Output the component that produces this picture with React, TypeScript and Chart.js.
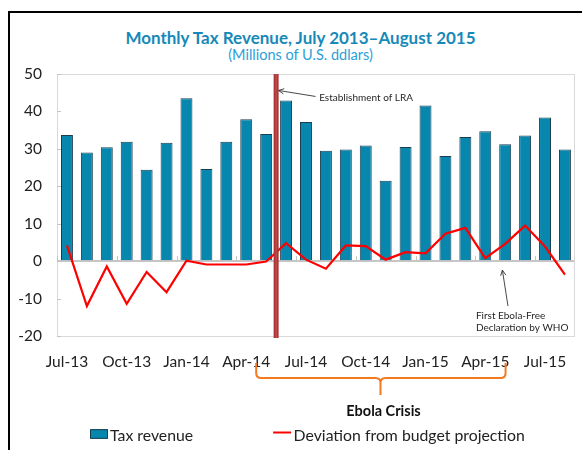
import React, { useEffect, useRef } from 'react';
import { Chart, registerables } from 'chart.js';

Chart.register(...registerables);

// ---------- data ----------
const months = [
  'Jul-13', 'Aug-13', 'Sep-13', 'Oct-13', 'Nov-13', 'Dec-13',
  'Jan-14', 'Feb-14', 'Mar-14', 'Apr-14', 'May-14', 'Jun-14',
  'Jul-14', 'Aug-14', 'Sep-14', 'Oct-14', 'Nov-14', 'Dec-14',
  'Jan-15', 'Feb-15', 'Mar-15', 'Apr-15', 'May-15', 'Jun-15',
  'Jul-15', 'Aug-15',
];

const taxRevenue = [
  33.7, 29.0, 30.4, 31.9, 24.4, 31.6,
  43.5, 24.6, 31.9, 37.9, 34.0, 42.9,
  37.2, 29.5, 29.8, 30.9, 21.5, 30.5,
  41.6, 28.1, 33.2, 34.7, 31.2, 33.6,
  38.4, 29.8,
];

const deviation = [
  4.2, -12.0, -1.4, -11.4, -2.9, -8.3,
  0.1, -0.9, -0.9, -0.9, -0.1, 4.8,
  0.4, -2.0, 4.2, 4.0, 0.4, 2.4,
  2.1, 7.3, 8.9, 0.8, 4.6, 9.5,
  3.9, -3.6,
];

const seriesLabels = ['Tax revenue', 'Deviation from budget projection'];

const Y_MIN = -20;
const Y_MAX = 50;
const Y_STEP = 10;
const LABEL_EVERY = 3;

// annotations (in data coordinates: category index, value)
const LRA_AT = 10.5;
const LRA_TEXT = 'Establishment of LRA';
const LRA_ARROW_TIP = [10.62, 45.6];
const LRA_ARROW_TAIL = [12.48, 44.0];
const LRA_TEXT_AT = [12.66, 43.7];

const WHO_TEXT = ['First Ebola-Free', 'Declaration by WHO'];
const WHO_ARROW_TIP = [21.86, -2.4];
const WHO_ARROW_TAIL = [22.14, -12.0];
const WHO_TEXT_AT = [20.53, -14.6];

const CRISIS_TEXT = 'Ebola Crisis';
const CRISIS_FROM = 9.5;
const CRISIS_TO = 22.02;
const CRISIS_MID = 15.74;

const TITLE = 'Monthly Tax Revenue, July 2013\u2013August 2015';
const SUBTITLE = '(Millions of U.S. ddlars)';

// ---------- styles ----------
const BAR_COLOR = '#0787ae';
const BAR_BORDER = '#1b3d50';
const LINE_COLOR = '#ff0000';
const LRA_COLOR = '#ad3535';
const BRACE_COLOR = '#f47a1f';
const TEXT_COLOR = '#222222';
const FONT = 'Lato, "Open Sans", sans-serif';

function arrow(ctx: CanvasRenderingContext2D, x1: number, y1: number, x2: number, y2: number) {
  ctx.beginPath();
  ctx.moveTo(x1, y1);
  ctx.lineTo(x2, y2);
  const ang = Math.atan2(y2 - y1, x2 - x1);
  const len = 6;
  const spread = 0.45;
  ctx.moveTo(x2 - len * Math.cos(ang - spread), y2 - len * Math.sin(ang - spread));
  ctx.lineTo(x2, y2);
  ctx.lineTo(x2 - len * Math.cos(ang + spread), y2 - len * Math.sin(ang + spread));
  ctx.stroke();
}

const overlayPlugin = {
  id: 'overlay',
  beforeDatasetsDraw(chart: any) {
    const { ctx, chartArea: a, scales } = chart;
    const x = scales.x;
    const y = scales.y;
    ctx.save();
    ctx.strokeStyle = '#d9d9d9';
    ctx.lineWidth = 1;
    ctx.strokeRect(Math.round(a.left) + 0.5, Math.round(a.top) + 0.5, Math.round(a.right - a.left) - 1, Math.round(a.bottom - a.top));
    ctx.strokeStyle = '#c4c4c4';
    ctx.beginPath();
    for (let v = Y_MIN; v <= Y_MAX; v += Y_STEP) {
      const py = Math.round(y.getPixelForValue(v)) + 0.5;
      ctx.moveTo(a.left, py);
      ctx.lineTo(a.left + 4, py);
    }
    const y0 = y.getPixelForValue(0);
    for (let i = 0; i <= months.length; i += LABEL_EVERY) {
      const px = Math.round(x.getPixelForValue(i - 0.5)) + 0.5;
      ctx.moveTo(px, y0 - 5);
      ctx.lineTo(px, y0);
    }
    ctx.stroke();
    ctx.restore();
  },
  afterDraw(chart: any) {
    const { ctx, chartArea: a, scales } = chart;
    const x = scales.x;
    const y = scales.y;
    const X = (v: number) => x.getPixelForValue(v);
    const Y = (v: number) => y.getPixelForValue(v);
    ctx.save();

    // LRA vertical line
    const lx = X(LRA_AT);
    ctx.fillStyle = LRA_COLOR;
    ctx.fillRect(lx - 2.5, a.top, 5, a.bottom - a.top + 2);
    ctx.fillStyle = 'rgba(220,120,120,0.5)';
    ctx.fillRect(lx - 0.5, a.top, 1, a.bottom - a.top + 2);

    // annotation arrows
    ctx.strokeStyle = '#333';
    ctx.lineWidth = 0.9;
    arrow(ctx, X(LRA_ARROW_TAIL[0]), Y(LRA_ARROW_TAIL[1]), X(LRA_ARROW_TIP[0]), Y(LRA_ARROW_TIP[1]));
    arrow(ctx, X(WHO_ARROW_TAIL[0]), Y(WHO_ARROW_TAIL[1]), X(WHO_ARROW_TIP[0]), Y(WHO_ARROW_TIP[1]));

    ctx.fillStyle = '#262626';
    ctx.font = `10px ${FONT}`;
    ctx.textAlign = 'left';
    ctx.textBaseline = 'middle';
    ctx.fillText(LRA_TEXT, X(LRA_TEXT_AT[0]), Y(LRA_TEXT_AT[1]));
    WHO_TEXT.forEach((t, i) => {
      ctx.fillText(t, X(WHO_TEXT_AT[0]), Y(WHO_TEXT_AT[1]) + i * 11.7);
    });

    // Ebola crisis brace
    const bx1 = X(CRISIS_FROM);
    const bx2 = X(CRISIS_TO);
    const bm = X(CRISIS_MID);
    const top = a.bottom + 27;
    const mid = a.bottom + 42;
    const tip = a.bottom + 59;
    const r = 5;
    ctx.strokeStyle = BRACE_COLOR;
    ctx.lineWidth = 2;
    ctx.lineJoin = 'round';
    ctx.beginPath();
    ctx.moveTo(bx1, top);
    ctx.lineTo(bx1, mid - r);
    ctx.quadraticCurveTo(bx1, mid, bx1 + r, mid);
    ctx.lineTo(bm - r, mid);
    ctx.quadraticCurveTo(bm, mid, bm, mid + r);
    ctx.lineTo(bm, tip);
    ctx.moveTo(bm, mid + r);
    ctx.quadraticCurveTo(bm, mid, bm + r, mid);
    ctx.lineTo(bx2 - r, mid);
    ctx.quadraticCurveTo(bx2, mid, bx2, mid - r);
    ctx.lineTo(bx2, top);
    ctx.stroke();

    ctx.fillStyle = '#111';
    ctx.font = `bold 14.5px ${FONT}`;
    ctx.textAlign = 'center';
    ctx.fillText(CRISIS_TEXT, bm + 3, a.bottom + 75);

    // legend
    const ds = chart.data.datasets;
    const ly = a.bottom + 98;
    ctx.font = `15.8px ${FONT}`;
    ctx.textAlign = 'left';
    ctx.textBaseline = 'middle';
    let cx = a.left + 33;
    ctx.fillStyle = ds[0].backgroundColor;
    ctx.fillRect(cx, ly - 4.8, 18, 9.6);
    ctx.strokeStyle = ds[0].borderColor;
    ctx.lineWidth = 1;
    ctx.strokeRect(cx + 0.5, ly - 4.3, 17, 8.6);
    ctx.fillStyle = TEXT_COLOR;
    ctx.fillText(ds[0].label, cx + 20, ly + 2);
    cx += 20 + ctx.measureText(ds[0].label).width + 80;
    ctx.strokeStyle = ds[1].borderColor;
    ctx.lineWidth = 2;
    ctx.beginPath();
    ctx.moveTo(cx, ly - 1.5);
    ctx.lineTo(cx + 18, ly - 1.5);
    ctx.stroke();
    ctx.fillStyle = TEXT_COLOR;
    ctx.fillText(ds[1].label, cx + 20.5, ly + 2);

    ctx.restore();
  },
};

export default function App() {
  const canvasRef = useRef<HTMLCanvasElement | null>(null);

  useEffect(() => {
    if (!canvasRef.current) return;
    Chart.defaults.font.family = FONT;
    const chart = new Chart(canvasRef.current, {
      type: 'bar',
      data: {
        labels: months,
        datasets: [
          {
            type: 'bar',
            label: seriesLabels[0],
            data: taxRevenue,
            backgroundColor: BAR_COLOR,
            borderColor: BAR_BORDER,
            borderWidth: 1,
            barPercentage: 0.6,
            categoryPercentage: 1,
            order: 2,
          },
          {
            type: 'line',
            label: seriesLabels[1],
            data: deviation,
            borderColor: LINE_COLOR,
            backgroundColor: LINE_COLOR,
            borderWidth: 2.2,
            pointRadius: 0,
            tension: 0,
            order: 1,
          } as any,
        ] as any,
      },
      options: {
        responsive: false,
        animation: false,
        devicePixelRatio: 1,
        layout: { padding: { top: 74, right: 3, left: 0, bottom: 0 } },
        plugins: {
          legend: { display: false },
          title: { display: false },
          tooltip: { enabled: false },
        },
        scales: {
          x: {
            type: 'category',
            offset: true,
            grid: { display: false, drawTicks: false },
            border: { display: false },
            ticks: {
              autoSkip: false,
              maxRotation: 0,
              minRotation: 0,
              padding: 17,
              color: TEXT_COLOR,
              font: { size: 15.5, family: FONT },
              callback: (_v: any, i: number) => (i % LABEL_EVERY === 0 ? months[i] : ''),
            },
            afterFit: (s: any) => { s.height = 114; },
          },
          y: {
            min: Y_MIN,
            max: Y_MAX,
            border: { display: false },
            grid: {
              drawTicks: false,
              color: (c: any) => (c.tick && c.tick.value === 0 ? '#c6c6c6' : 'rgba(0,0,0,0)'),
              lineWidth: (c: any) => (c.tick && c.tick.value === 0 ? 2 : 0),
            },
            ticks: {
              stepSize: Y_STEP,
              padding: 15,
              color: TEXT_COLOR,
              font: { size: 15.5, family: FONT },
            },
            afterFit: (s: any) => { s.width = 57; },
          },
        },
      },
      plugins: [overlayPlugin],
    });
    return () => chart.destroy();
  }, []);

  return (
    <div style={{ position: 'fixed', left: 0, top: 0, width: 582, height: 450, overflow: 'hidden', background: '#fff' }}>
      <div style={{ position: 'absolute', left: 8, top: 11, width: 700, height: 600, borderLeft: '2px solid #000', borderTop: '2px solid #000' }} />
      <div style={{ position: 'absolute', left: 0, top: 27, width: 601, textAlign: 'center', fontFamily: FONT, fontWeight: 700, fontSize: 17, lineHeight: '21px', color: '#1789b8' }}>
        {TITLE}
      </div>
      <div style={{ position: 'absolute', left: 0, top: 45, width: 601, textAlign: 'center', fontFamily: FONT, fontSize: 14.5, lineHeight: '19px', color: '#2c9fd8' }}>
        {SUBTITLE}
      </div>
      <canvas ref={canvasRef} width={582} height={450} style={{ position: 'absolute', left: 0, top: 0, width: 582, height: 450 }} />
    </div>
  );
}
